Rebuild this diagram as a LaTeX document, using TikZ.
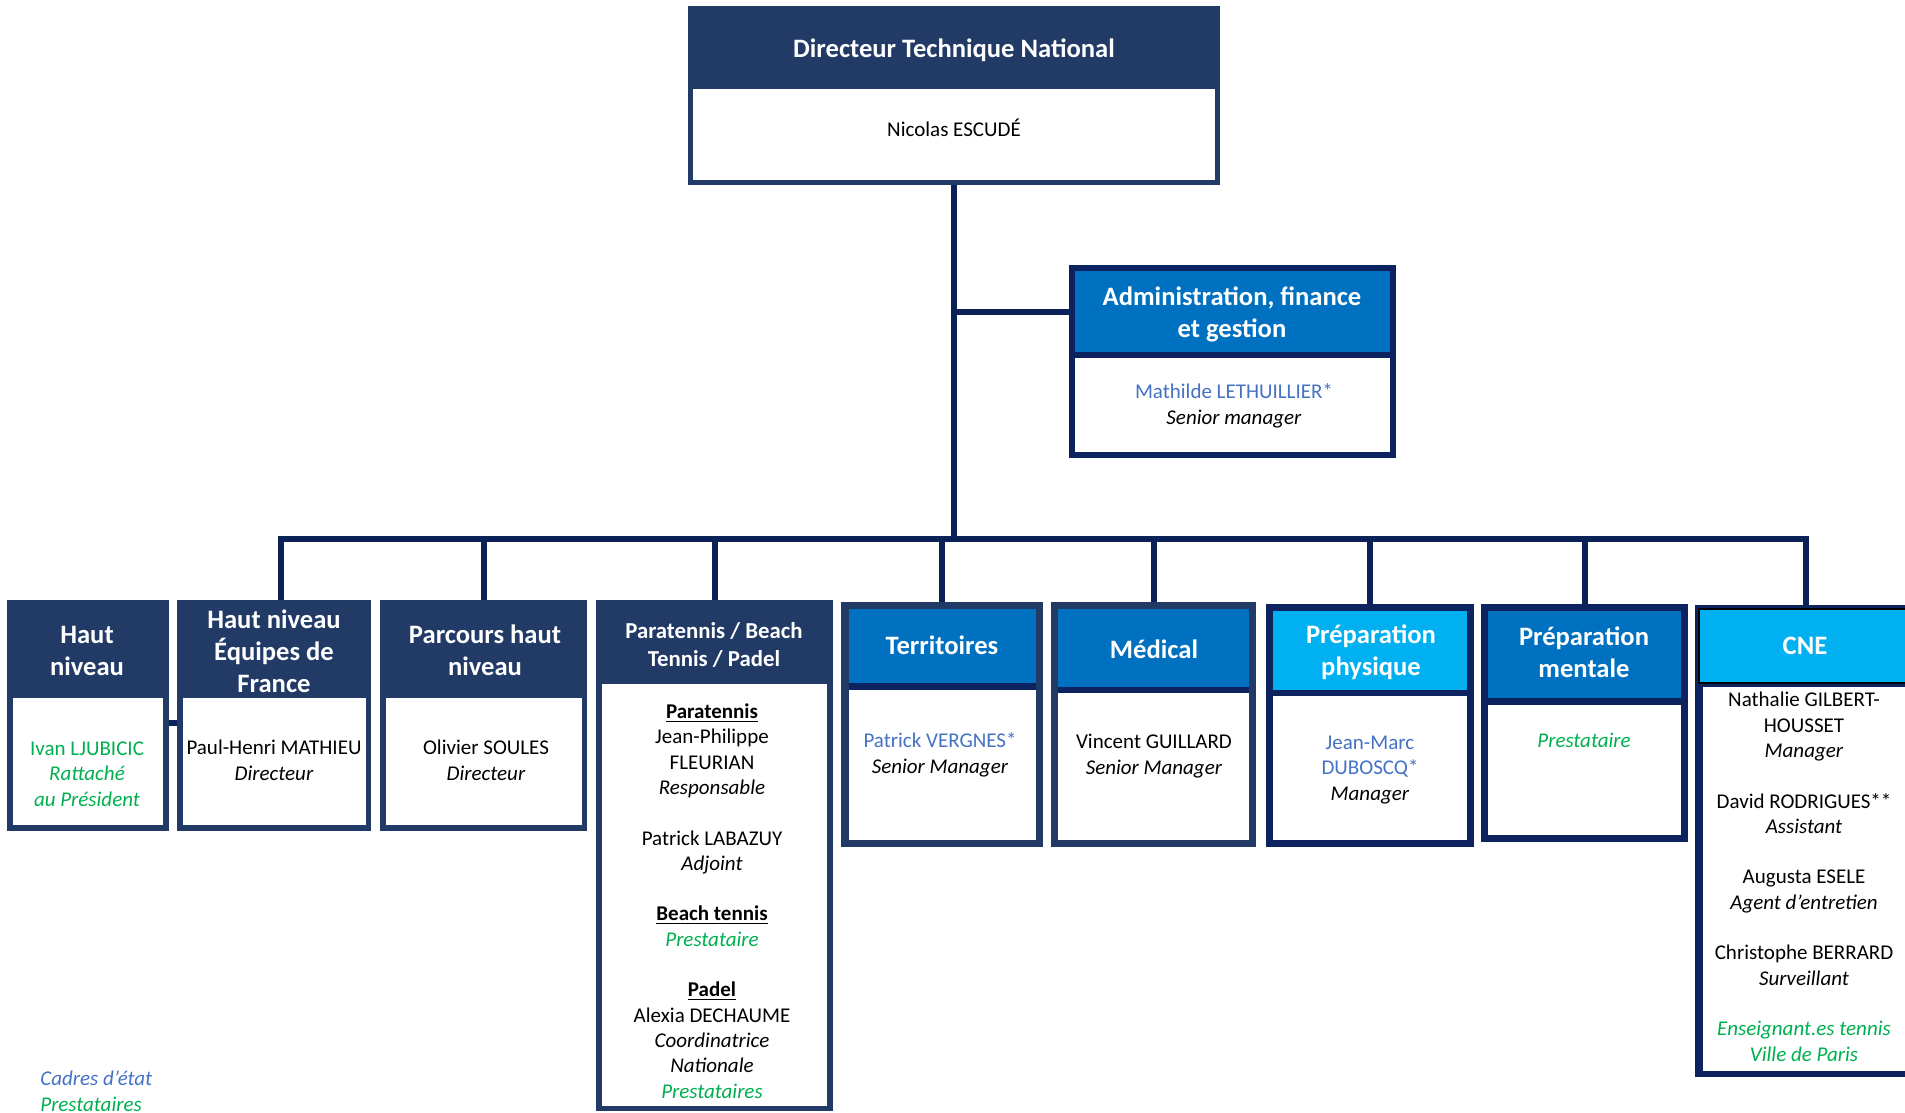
\documentclass[tikz,border=0pt]{standalone}
\usepackage{fontspec}
\setmainfont{Carlito}
\usetikzlibrary{fit}
\definecolor{navy}{HTML}{213A66}
\definecolor{deepnavy}{HTML}{0C2360}
\definecolor{linknavy}{HTML}{0B2259}
\definecolor{midblue}{HTML}{0070C0}
\definecolor{skyblue}{HTML}{00B0F0}
\definecolor{staffgreen}{HTML}{00B050}
\definecolor{stateblue}{HTML}{4472C4}
\begin{document}
\begin{tikzpicture}[x=0.5pt, y=-0.5pt,
  link/.style={draw=linknavy, line width=3pt},
  unit/.style={fill=#1, inner sep=0pt},
  unithead/.style={fill=#1, inner sep=0pt},
  unitbody/.style={fill=white, inner sep=0pt},
  unitlabel/.style={inner sep=0pt, anchor=base, align=center, text=white, font=\bfseries\fontsize{13.3}{15.8}\selectfont},
  staff/.style={inner sep=0pt, anchor=base, align=center, font=\fontsize{10.5}{12.65}\selectfont}]
  \useasboundingbox (0,0) rectangle (1905,1113);
  \clip (0,0) rectangle (1905,1113);

  \node[unit=navy, fit={(688,6) (1220,185)}] (dtn) {};
  \node[unithead=navy, fit={(693,11) (1215,89)}] (dtn-h) {};
  \node[unitbody, fit={(693,89) (1215,180)}] (dtn-b) {};
  \node[unitlabel] (dtn-l) at (954,58) {Directeur Technique National};
  \node[staff] (dtn-t) at (954,136) {Nicolas ESCUDÉ};

  \node[unit=deepnavy, fit={(1069,265) (1396,458)}] (adm) {};
  \node[unithead=midblue, fit={(1075,271) (1390,352)}] (adm-h) {};
  \node[unitbody, fit={(1075,358) (1390,452)}] (adm-b) {};
  \node[unitlabel] (adm-l) at (1232,337) {Administration, finance\\et gestion};
  \node[staff] (adm-t) at (1234,424) {\textcolor{stateblue}{Mathilde LETHUILLIER*}\\\textit{Senior manager}};

  \node[unit=navy, fit={(7,600) (169,831)}] (hn) {};
  \node[unithead=navy, fit={(7,600) (169,698)}] (hn-h) {};
  \node[unitbody, fit={(13,698) (163,825)}] (hn-b) {};
  \node[unitlabel] (hn-l) at (87,675) {Haut\\niveau};
  \node[staff, text=staffgreen] (hn-t) at (87,806) {Ivan LJUBICIC\\\textit{Rattaché}\\\textit{au Président}};

  \node[unit=navy, fit={(177,600) (371,831)}] (hnef) {};
  \node[unithead=navy, fit={(177,600) (371,698)}] (hnef-h) {};
  \node[unitbody, fit={(183,698) (366,825)}] (hnef-b) {};
  \node[unitlabel] (hnef-l) at (274,692) {Haut niveau\\Équipes de\\France};
  \node[staff] (hnef-t) at (274,780) {Paul-Henri MATHIEU\\\textit{Directeur}};

  \node[unit=navy, fit={(380,600) (587,831)}] (phn) {};
  \node[unithead=navy, fit={(380,600) (587,698)}] (phn-h) {};
  \node[unitbody, fit={(386,698) (582,825)}] (phn-b) {};
  \node[unitlabel] (phn-l) at (485,675) {Parcours haut\\niveau};
  \node[staff] (phn-t) at (486,780) {Olivier SOULES\\\textit{Directeur}};

  \node[unit=navy, fit={(596,600) (833,1111)}] (para) {};
  \node[unithead=navy, fit={(596,600) (833,684)}] (para-h) {};
  \node[unitbody, fit={(602,684) (827,1106)}] (para-b) {};
  \node[unitlabel, font=\bfseries\fontsize{11.4}{13.8}\selectfont] (para-l) at (714,666) {Paratennis / Beach\\Tennis / Padel};
  \node[staff] (para-t) at (712,1098) {\underline{\textbf{Paratennis}}\\Jean-Philippe\\FLEURIAN\\\textit{Responsable}\\[12.65pt]Patrick LABAZUY\\\textit{Adjoint}\\[12.65pt]\underline{\textbf{Beach tennis}}\\\textcolor{staffgreen}{\textit{Prestataire}}\\[12.65pt]\underline{\textbf{Padel}}\\Alexia DECHAUME\\\textit{Coordinatrice}\\\textit{Nationale}\\\textcolor{staffgreen}{\textit{Prestataires}}};

  \node[unit=navy, fit={(841,602) (1043,847)}] (terr) {};
  \node[unithead=midblue, fit={(849,609) (1036,683)}] (terr-h) {};
  \fill[deepnavy] (849,683) rectangle (1036,690);
  \node[unitbody, fit={(849,690) (1036,840)}] (terr-b) {};
  \node[unitlabel] (terr-l) at (942,654) {Territoires};
  \node[staff] (terr-t) at (940,773) {\textcolor{stateblue}{Patrick VERGNES*}\\\textit{Senior Manager}};

  \node[unit=navy, fit={(1051,602) (1256,847)}] (med) {};
  \node[unithead=midblue, fit={(1058,609) (1249,687)}] (med-h) {};
  \fill[deepnavy] (1058,687) rectangle (1249,693);
  \node[unitbody, fit={(1058,693) (1249,840)}] (med-b) {};
  \node[unitlabel] (med-l) at (1154,658) {Médical};
  \node[staff] (med-t) at (1154,774) {Vincent GUILLARD\\\textit{Senior Manager}};

  \node[unit=deepnavy, fit={(1266,604) (1474,847)}] (pphys) {};
  \node[unithead=skyblue, fit={(1273,611) (1467,690)}] (pphys-h) {};
  \node[unitbody, fit={(1273,696) (1467,840)}] (pphys-b) {};
  \node[unitlabel] (pphys-l) at (1371,675) {Préparation\\physique};
  \node[staff] (pphys-t) at (1370,800) {\textcolor{stateblue}{Jean-Marc}\\\textcolor{stateblue}{DUBOSCQ*}\\\textit{Manager}};

  \node[unit=deepnavy, fit={(1481,604) (1688,842)}] (pment) {};
  \node[unithead=midblue, fit={(1488,611) (1681,698)}] (pment-h) {};
  \node[unitbody, fit={(1488,705) (1681,835)}] (pment-b) {};
  \node[unitlabel] (pment-l) at (1584,677) {Préparation\\mentale};
  \node[staff, text=staffgreen] (pment-t) at (1584,747) {\textit{Prestataire}};

  \node[unit=deepnavy, fit={(1695,605) (1917,1077)}] (cne) {};
  \node[unithead=skyblue, fit={(1699,609) (1917,683)}, draw=black, line width=0.6pt] (cne-h) {};
  \node[unitbody, fit={(1703,687) (1917,1071)}] (cne-b) {};
  \node[unitlabel] (cne-l) at (1805,654) {CNE};
  \node[staff] (cne-t) at (1804,1061) {Nathalie GILBERT-\\HOUSSET\\\textit{Manager}\\[12.65pt]David RODRIGUES**\\\textit{Assistant}\\[12.65pt]Augusta ESELE\\\textit{Agent d’entretien}\\[12.65pt]Christophe BERRARD\\\textit{Surveillant}\\[12.65pt]\textcolor{staffgreen}{\textit{Enseignant.es tennis}}\\\textcolor{staffgreen}{\textit{Ville de Paris}}};

  \node[staff, anchor=base west, align=left] (key) at (40,1111) {\textcolor{stateblue}{\textit{Cadres d’état}}\\\textcolor{staffgreen}{\textit{Prestataires}}};

  \coordinate (bus) at (954,539);
  \draw[link] (dtn.south) -- (bus);
  \draw[link] (dtn.south |- adm-h.west) -- (adm.west |- adm-h.west);
  \draw[link] ([xshift=3.5pt]hnef.north) |- (bus) -| (cne.north);
  \draw[link] (phn.north) -- (phn.north |- bus);
  \draw[link] (para.north) -- (para.north |- bus);
  \draw[link] (terr.north) -- (terr.north |- bus);
  \draw[link] (med.north) -- (med.north |- bus);
  \draw[link] (pphys.north) -- (pphys.north |- bus);
  \draw[link] (pment.north) -- (pment.north |- bus);
  \draw[link] ([yshift=-3.5pt]hn.east) -- ([yshift=-3.5pt]hn.east -| hnef.west);
\end{tikzpicture}
\end{document}
